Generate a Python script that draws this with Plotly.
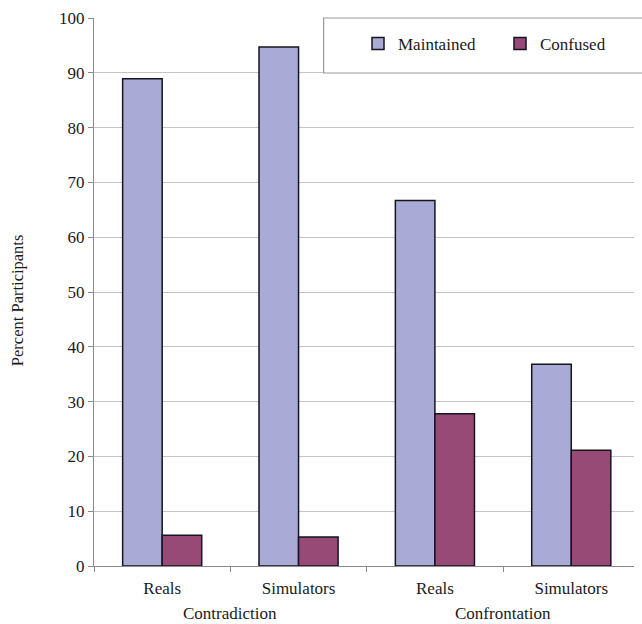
import plotly.graph_objects as go

categories = ["c_reals", "c_sim", "f_reals", "f_sim"]
tick_labels = ["Reals", "Simulators", "Reals", "Simulators"]
groups = ["Contradiction", "Confrontation"]
maintained = [88.9, 94.7, 66.7, 36.8]
confused = [5.6, 5.3, 27.8, 21.1]

FONT = "Liberation Serif"
W, H = 642, 624
L, T = 94, 18
B = H - 566
PW = W - L
PH = H - T - B

fig = go.Figure()
fig.add_trace(go.Bar(x=categories, y=maintained, name="Maintained",
                     marker=dict(color="#aaaad6", line=dict(color="#15151f", width=1.5))))
fig.add_trace(go.Bar(x=categories, y=confused, name="Confused",
                     marker=dict(color="#984a76", line=dict(color="#15151f", width=1.5))))

fig.update_layout(
    width=W, height=H,
    margin=dict(l=L, r=0, t=T, b=B),
    paper_bgcolor="white", plot_bgcolor="white",
    barmode="group", bargap=0.42, bargroupgap=0,
    font=dict(family=FONT, size=17, color="#1a1a1a"),
    showlegend=True,
    legend=dict(orientation="h", x=(362 - L) / PW, xanchor="left", y=1 - (26 - T) / PH, yanchor="top",
                bgcolor="rgba(0,0,0,0)", borderwidth=0, font=dict(family=FONT, size=17),
                entrywidth=97, entrywidthmode="pixels", traceorder="normal"),
    xaxis=dict(type="category", range=[-0.5, 3.46], tickmode="array", tickvals=categories,
               ticktext=tick_labels, tickson="boundaries", ticks="outside", ticklen=5,
               tickcolor="#8a8a8a", showline=True, linecolor="#8a8a8a", linewidth=1,
               showgrid=False, ticklabelstandoff=7, tickfont=dict(family=FONT, size=17)),
    yaxis=dict(range=[0, 100], dtick=10, ticks="outside", ticklen=5, tickcolor="#8a8a8a",
               showline=True, linecolor="#8a8a8a", linewidth=1, showgrid=True,
               gridcolor="#c4c4c4", gridwidth=1.2, zeroline=False,
               tickfont=dict(family=FONT, size=17)),
)

# legend frame
fig.add_shape(type="rect", xref="paper", yref="paper", x0=(327 - L) / PW, x1=1.05,
              y0=(566 - 73) / PH, y1=1, line=dict(color="#999999", width=1.2),
              fillcolor="white", layer="above")

for i, g in enumerate(groups):
    fig.add_annotation(x=2 * i + 0.5, xref="x", y=-47 / PH, yref="paper", text=g,
                       showarrow=False, xanchor="center", yanchor="middle", borderpad=0,
                       font=dict(family=FONT, size=17))

fig.add_annotation(x=(16 - L) / PW, xref="paper", y=(566 - 300) / PH, yref="paper",
                   text="Percent Participants", textangle=-90, showarrow=False,
                   xanchor="center", yanchor="middle", font=dict(family=FONT, size=16.5))

fig.write_html("out.html", config={"displayModeBar": False},
               post_script="document.documentElement.style.overflow='hidden';"
                           "document.body.style.margin='0';document.body.style.overflow='hidden';")
